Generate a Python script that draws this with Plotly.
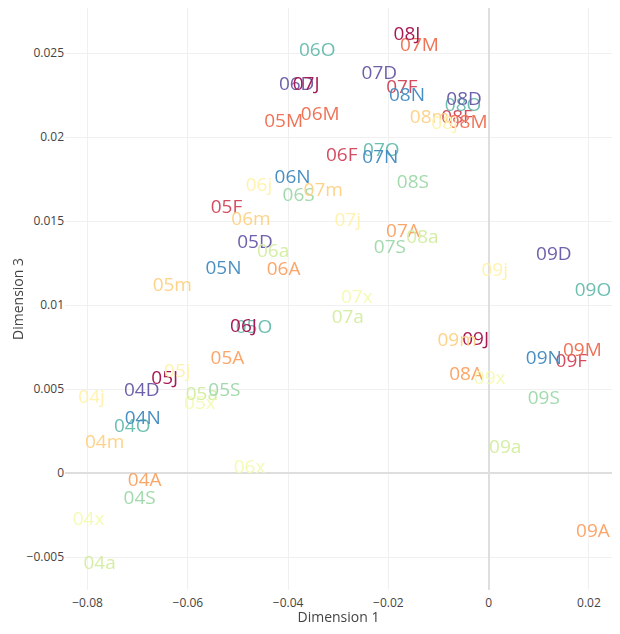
import plotly.graph_objects as go
from plotly.colors import sample_colorscale

# Month codes in order (J F M A m j x a S O N D)
months = ["J", "F", "M", "A", "m", "j", "x", "a", "S", "O", "N", "D"]

labels = [
    "04A", "04m", "04j", "04x", "04a", "04S", "04O", "04N", "04D",
    "05J", "05F", "05M", "05A", "05m", "05j", "05x", "05a", "05S", "05O", "05N", "05D",
    "06J", "06F", "06M", "06A", "06m", "06j", "06x", "06a", "06S", "06O", "06N", "06D",
    "07J", "07F", "07M", "07A", "07m", "07j", "07x", "07a", "07S", "07O", "07N", "07D",
    "08J", "08F", "08M", "08A", "08m", "08j", "08a", "08S", "08O", "08N", "08D",
    "09J", "09F", "09M", "09A", "09m", "09j", "09x", "09a", "09S", "09O", "09N", "09D",
]

dim1 = [
    -0.0686, -0.0766, -0.0792, -0.0798, -0.0776, -0.0696, -0.0711, -0.0690, -0.0692,
    -0.0646, -0.0523, -0.0409, -0.0521, -0.0631, -0.0621, -0.0576, -0.0572, -0.0527, -0.0468, -0.0529, -0.0466,
    -0.0489, -0.0293, -0.0336, -0.0409, -0.0474, -0.0458, -0.0477, -0.0430, -0.0379, -0.0342, -0.0391, -0.0383,
    -0.0364, -0.0173, -0.0138, -0.0171, -0.0330, -0.0281, -0.0263, -0.0281, -0.0197, -0.0214, -0.0216, -0.0218,
    -0.0163, -0.0063, -0.0041, -0.0045, -0.0118, -0.0088, -0.0132, -0.0151, -0.0051, -0.0163, -0.0049,
    -0.0026, 0.0165, 0.0187, 0.0208, -0.0063, 0.0012, 0.0002, 0.0033, 0.0110, 0.0208, 0.0110, 0.0130,
]

dim3 = [
    -0.00048, 0.00179, 0.00446, -0.00280, -0.00542, -0.00155, 0.00274, 0.00321, 0.00488,
    0.00560, 0.01577, 0.02089, 0.00679, 0.01113, 0.00601, 0.00411, 0.00464, 0.00488, 0.00863, 0.01214, 0.01369,
    0.00869, 0.01887, 0.02131, 0.01208, 0.01506, 0.01708, 0.00030, 0.01315, 0.01649, 0.02512, 0.01756, 0.02310,
    0.02310, 0.02292, 0.02542, 0.01435, 0.01679, 0.01500, 0.01042, 0.00923, 0.01339, 0.01917, 0.01875, 0.02375,
    0.02607, 0.02113, 0.02083, 0.00583, 0.02113, 0.02077, 0.01399, 0.01726, 0.02185, 0.02244, 0.02220,
    0.00792, 0.00661, 0.00726, -0.00351, 0.00786, 0.01202, 0.00560, 0.00149, 0.00440, 0.01083, 0.00679, 0.01298,
]

month_colors = sample_colorscale("Spectral", [i / 11 for i in range(12)])
cmap = dict(zip(months, month_colors))
colors = [cmap[l[2]] for l in labels]

fig = go.Figure(
    go.Scatter(
        x=dim1,
        y=dim3,
        mode="text",
        text=labels,
        textposition="middle center",
        textfont=dict(size=19, color=colors, family="Open Sans"),
        opacity=0.9,
        cliponaxis=False,
        showlegend=False,
    )
)

fig.update_layout(
    width=604,
    height=618,
    template="plotly_white",
    margin=dict(l=57, r=0, t=0, b=36, autoexpand=False),
    font=dict(family="Open Sans", color="#444"),
    plot_bgcolor="white",
    paper_bgcolor="white",
)
fig.update_xaxes(
    title=dict(text="Dimension 1", font=dict(size=14), standoff=9),
    range=[-0.0845, 0.0246],
    tickvals=[-0.08, -0.06, -0.04, -0.02, 0, 0.02],
    gridcolor="#f0f0f0",
    zerolinecolor="#dedede",
    zerolinewidth=2,
    tickfont=dict(size=12),
    ticklabelstandoff=4,
    automargin=False,
)
fig.update_yaxes(
    title=dict(text="Dimension 3", font=dict(size=14), standoff=6),
    range=[-0.00696, 0.02768],
    tickvals=[-0.005, 0, 0.005, 0.01, 0.015, 0.02, 0.025],
    gridcolor="#f0f0f0",
    zerolinecolor="#dedede",
    zerolinewidth=2,
    tickfont=dict(size=12),
    automargin=False,
)

fig.write_html("out.html")
